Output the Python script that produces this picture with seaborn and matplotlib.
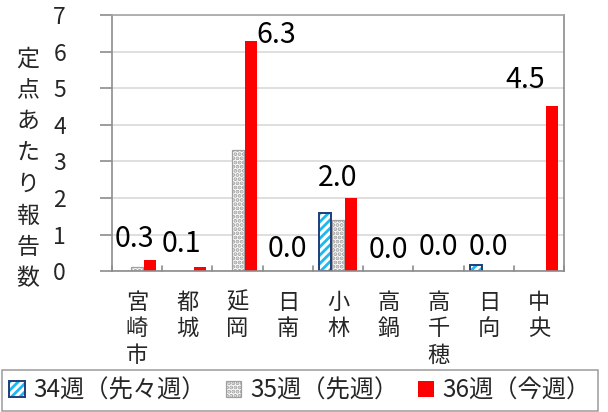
import matplotlib
matplotlib.use("Agg")
import matplotlib.pyplot as plt
import matplotlib.patches as mpatches
from matplotlib.legend_handler import HandlerTuple
import seaborn as sns
import pandas as pd

# ---- data ----
areas = ["宮崎市", "都城", "延岡", "日南", "小林", "高鍋", "高千穂", "日向", "中央"]
weeks = ["34週（先々週）", "35週（先週）", "36週（今週）"]
w34 = [0.0, 0.0, 0.0, 0.0, 1.6, 0.0, 0.0, 0.17, 0.0]
w35 = [0.12, 0.0, 3.3, 0.0, 1.4, 0.0, 0.0, 0.0, 0.0]
w36 = [0.3, 0.1, 6.3, 0.0, 2.0, 0.0, 0.0, 0.0, 4.5]
label_text = ["0.3", "0.1", "6.3", "0.0", "2.0", "0.0", "0.0", "0.0", "4.5"]
yticks = [0, 1, 2, 3, 4, 5, 6, 7]
ylabel = "定点あたり報告数"

df = pd.DataFrame({
    "area": areas * 3,
    "week": [weeks[0]] * 9 + [weeks[1]] * 9 + [weeks[2]] * 9,
    "value": w34 + w35 + w36,
})

# ---- style ----
sns.set_theme(style="white")
plt.rcParams["font.family"] = ["Noto Sans CJK JP", "DejaVu Sans"]
plt.rcParams["hatch.linewidth"] = 2.0
GRID = "#d9d9d9"
SPINE = "#8c8c8c"
BLUE = "#1fb8ee"
NAVY = "#1f3d7a"
RED = "#ff0000"
DOTS = "#a0a0a0"

fig = plt.figure(figsize=(6.08, 4.12), dpi=100)
ax = fig.add_axes([0.184, 0.342, 0.744, 0.6215])

sns.barplot(data=df, x="area", y="value", hue="week", order=areas,
            hue_order=weeks, palette=["white", "white", RED],
            width=0.78, gap=0.08, ax=ax, legend=False, saturation=1)

c34, c35, c36 = ax.containers
for p in c34:
    p.set_facecolor("white")
    p.set_edgecolor(BLUE)
    p.set_hatch("////")
    p.set_linewidth(0)
    if p.get_height() > 0:
        ax.add_patch(mpatches.Rectangle(p.get_xy(), p.get_width(), p.get_height(),
                                        fill=False, edgecolor=NAVY, lw=1.4, zorder=p.get_zorder() + 0.1))
for p in c35:
    p.set_facecolor("white")
    p.set_edgecolor(DOTS)
    p.set_hatch("....")
    p.set_linewidth(0.9)
    if p.get_height() <= 0:
        p.set_visible(False)
for p in c36:
    p.set_edgecolor(RED)
    p.set_linewidth(0)

# data labels (36週) with per-label pixel offsets (dx, dy) from category center / bar top
offsets = [(-3, 13), (-6, 15), (0, 0), (0, 14), (0, 12), (0, 13), (0, 16), (0, 16), (-14, 18)]
for i, (v, t) in enumerate(zip(w36, label_text)):
    if i == 2:
        bar = c36[i]
        ax.annotate(t, (bar.get_x() + bar.get_width(), v), xytext=(0, -2),
                    textcoords="offset pixels", ha="left", va="baseline",
                    fontsize=20.5, color="black", annotation_clip=False)
    else:
        dx, dy = offsets[i]
        ax.annotate(t, (i, v), xytext=(dx, dy), textcoords="offset pixels",
                    ha="center", va="baseline", fontsize=20.5, color="black",
                    annotation_clip=False)

ax.set_ylim(0, 7)
ax.set_xlim(-0.5, len(areas) - 0.5)
ax.set_yticks(yticks)
ax.set_yticklabels([str(y) for y in yticks], fontsize=16.5)
ax.yaxis.grid(True, color=GRID, lw=1.2)
ax.set_axisbelow(True)
ax.tick_params(axis="y", direction="out", length=9, width=1.2, color=SPINE, pad=24, left=True)

ax.set_xticks(range(len(areas)))
ax.set_xticklabels(["\n".join(a) for a in areas], fontsize=16, va="top", linespacing=1.2)
ax.tick_params(axis="x", length=0, pad=14)
for b in range(len(areas) + 1):
    ax.plot([b - 0.5, b - 0.5], [0, 0.14], color=SPINE, lw=1.2, clip_on=False, zorder=1)

for s in ax.spines.values():
    s.set_visible(True)
    s.set_color(SPINE)
    s.set_linewidth(1.2)
ax.spines["top"].set_color("#a6a6a6")
ax.set_xlabel("")
ax.set_ylabel("")

fig.text(0.046, 0.59, "\n".join(ylabel), ha="center", va="center",
         fontsize=16.5, linespacing=1.47)

# legend
h34 = (mpatches.Patch(facecolor="white", edgecolor=BLUE, hatch="////", lw=0),
       mpatches.Patch(fill=False, edgecolor=NAVY, lw=1.4))
h35 = mpatches.Patch(facecolor="white", edgecolor=DOTS, hatch="....", lw=0.9)
h36 = mpatches.Patch(facecolor=RED, edgecolor=RED, lw=0)
leg = fig.legend([h34, h35, h36], weeks, loc="lower left",
                 bbox_to_anchor=(0.003, 0.003, 0.98, 0.1), mode="expand",
                 ncol=3, fontsize=17.5, frameon=True, fancybox=False, edgecolor="#8c8c8c",
                 handlelength=0.65, handleheight=0.65, handletextpad=0.35, columnspacing=0.6,
                 borderpad=0.3, borderaxespad=0.0,
                 handler_map={tuple: HandlerTuple(ndivide=1, pad=0)})
leg.get_frame().set_linewidth(1.2)

fig.savefig("out.png", dpi=100)
